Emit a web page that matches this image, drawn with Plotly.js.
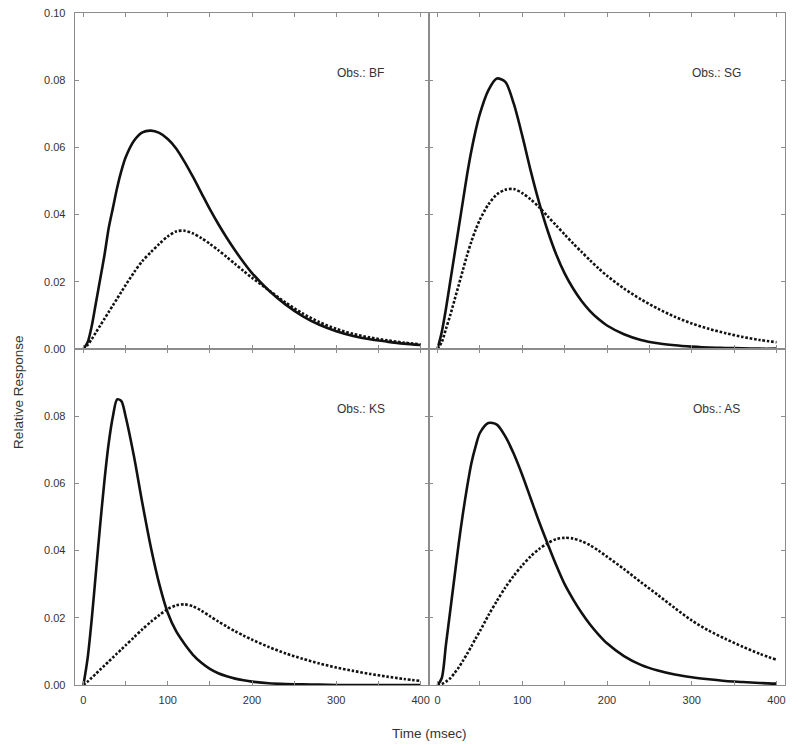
<!DOCTYPE html>
<html>
<head>
<meta charset="utf-8">
<script src="https://cdn.plot.ly/plotly-3.0.1.min.js"></script>
<style>
  body { margin: 0; background: #fff; }
  #chart { width: 800px; height: 745px; }
</style>
</head>
<body>
<div id="chart"></div>
<script>
// Time axis shared by every curve (msec)
const timeMs = [0, 5, 10, 15, 20, 25, 30, 35, 40, 45, 50, 60, 70, 80, 90, 100, 110, 120, 130, 140,
  150, 160, 170, 180, 190, 200, 220, 240, 260, 280, 300, 320, 340, 360, 380, 400];

// Obs.: BF
const bfSolid = [0, 0.002, 0.007, 0.014, 0.021, 0.028, 0.036, 0.042, 0.048, 0.053, 0.057, 0.0620, 0.0645, 0.0650, 0.0643, 0.0625,
  0.0597, 0.0557, 0.0512, 0.0464, 0.0416, 0.0372, 0.0331, 0.0293, 0.0258, 0.0226, 0.0174, 0.0132, 0.0098, 0.0072,
  0.0053, 0.0039, 0.0029, 0.0022, 0.0016, 0.0012];
const bfDotted = [0, 0.0012, 0.003, 0.005, 0.007, 0.009, 0.011, 0.013, 0.015, 0.017, 0.019, 0.0228, 0.0262, 0.0288, 0.0313, 0.0335,
  0.0350, 0.0352, 0.0344, 0.0330, 0.0313, 0.0294, 0.0274, 0.0253, 0.0232, 0.0212, 0.0175, 0.0138, 0.0106, 0.0080,
  0.0060, 0.0045, 0.0034, 0.0026, 0.0019, 0.0014];

// Obs.: SG
const sgSolid = [0, 0.005, 0.012, 0.020, 0.028, 0.036, 0.044, 0.052, 0.059, 0.065, 0.070, 0.077, 0.0805, 0.0795, 0.0730, 0.0635,
  0.0530, 0.0435, 0.0352, 0.0282, 0.0225, 0.0180, 0.0143, 0.0113, 0.0089, 0.0070, 0.0044, 0.0027, 0.0017, 0.0011,
  0.0007, 0.0004, 0.0003, 0.0002, 0.0001, 0.0001];
const sgDotted = [0, 0.002, 0.006, 0.010, 0.0145, 0.019, 0.0235, 0.028, 0.032, 0.0355, 0.0385, 0.0430, 0.0460, 0.0474, 0.0476, 0.0464,
  0.0445, 0.0422, 0.0395, 0.0368, 0.0341, 0.0314, 0.0289, 0.0264, 0.0240, 0.0218, 0.0180, 0.0148, 0.0120, 0.0096,
  0.0076, 0.0060, 0.0047, 0.0036, 0.0027, 0.0020];

// Obs.: KS
const ksSolid = [0, 0.008, 0.020, 0.034, 0.048, 0.061, 0.072, 0.080, 0.085, 0.0845, 0.080, 0.068, 0.054, 0.041, 0.030, 0.0215,
  0.0160, 0.0122, 0.0090, 0.0066, 0.0048, 0.0035, 0.0026, 0.0019, 0.0014, 0.0010, 0.0005, 0.0003, 0.0002, 0.0001,
  0, 0, 0, 0, 0, 0];
const ksDotted = [0, 0.001, 0.0022, 0.0034, 0.0046, 0.0058, 0.0070, 0.0082, 0.0094, 0.0106, 0.0118, 0.0142, 0.0166, 0.0188, 0.0208, 0.0226,
  0.0237, 0.0240, 0.0234, 0.0221, 0.0205, 0.0189, 0.0174, 0.0160, 0.0147, 0.0135, 0.0113, 0.0094, 0.0078, 0.0064,
  0.0052, 0.0042, 0.0033, 0.0025, 0.0018, 0.0012];

// Obs.: AS
const asSolid = [0, 0.002, 0.012, 0.022, 0.032, 0.042, 0.051, 0.059, 0.066, 0.071, 0.075, 0.078, 0.0775, 0.074, 0.0688, 0.0625,
  0.0555, 0.0485, 0.0420, 0.0357, 0.0300, 0.0255, 0.0215, 0.0180, 0.0150, 0.0124, 0.0086, 0.0060, 0.0043, 0.0031,
  0.0023, 0.0017, 0.0012, 0.0009, 0.0006, 0.0004];
const asDotted = [0, 0.0003, 0.001, 0.002, 0.0035, 0.0052, 0.0072, 0.0093, 0.0115, 0.0138, 0.016, 0.0207, 0.0250, 0.0290, 0.0325, 0.0356,
  0.0383, 0.0405, 0.0422, 0.0434, 0.0438, 0.0436, 0.0428, 0.0416, 0.0400, 0.0382, 0.0345, 0.0306, 0.0268, 0.0229,
  0.0192, 0.0162, 0.0137, 0.0114, 0.0093, 0.0075];

const panelNames = ['Obs.: BF', 'Obs.: SG', 'Obs.: KS', 'Obs.: AS'];
const panelSeries = [[bfSolid, bfDotted], [sgSolid, sgDotted], [ksSolid, ksDotted], [asSolid, asDotted]];

const AXIS_GRAY = '#8c8c8c';
const TICK_FONT = { family: 'Liberation Sans, Arial, sans-serif', size: 11, color: '#333' };

/**
 * Monta os traços (linha cheia e pontilhada) de um painel
 */
function buildTraces(series, idx) {
  const suffix = idx === 0 ? '' : String(idx + 1);
  const [solid, dotted] = series;
  const common = { x: timeMs, type: 'scatter', mode: 'lines', xaxis: 'x' + suffix, yaxis: 'y' + suffix, hoverinfo: 'skip' };
  return [
    { ...common, y: dotted, line: { color: '#111', width: 2.6, dash: '2.6px,1.8px', shape: 'spline', smoothing: 0.8 } },
    { ...common, y: solid, line: { color: '#111', width: 2.6, shape: 'spline', smoothing: 0.8 } }
  ];
}

function xAxis(domain, anchor, labels) {
  return {
    domain: domain, anchor: anchor, range: [-10, 410],
    tickvals: [0, 100, 200, 300, 400], showticklabels: labels,
    ticks: 'inside', ticklen: 4, tickcolor: AXIS_GRAY, tickwidth: 1,
    minor: { dtick: 50, tick0: 0, ticks: 'inside', ticklen: 4, tickcolor: AXIS_GRAY },
    showline: true, linecolor: AXIS_GRAY, linewidth: 1.3, mirror: 'ticks',
    showgrid: false, zeroline: false, tickfont: TICK_FONT, ticklabelstandoff: 4
  };
}

function yAxis(domain, anchor, labelVals) {
  const vals = [0, 0.02, 0.04, 0.06, 0.08, 0.1];
  return {
    domain: domain, anchor: anchor, range: [0, 0.1],
    tickvals: vals, ticktext: vals.map(v => labelVals.includes(v) ? v.toFixed(2) : ''),
    showticklabels: labelVals.length > 0,
    ticks: 'inside', ticklen: 4, tickcolor: AXIS_GRAY, tickwidth: 1,
    showline: true, linecolor: AXIS_GRAY, linewidth: 1.3, mirror: 'ticks',
    showgrid: false, zeroline: false, tickfont: TICK_FONT, ticklabelstandoff: 6
  };
}

const traces = panelSeries.flatMap((s, i) => buildTraces(s, i));

const annotations = panelNames.map((name, i) => {
  const suffix = i === 0 ? '' : String(i + 1);
  return {
    text: name, xref: 'x' + suffix, yref: 'y' + suffix, x: 329, y: 0.0822,
    showarrow: false, font: { family: 'Liberation Sans, Arial, sans-serif', size: 12, color: '#333' }
  };
});

annotations.push({
  text: 'Relative Response', xref: 'paper', yref: 'paper', x: -0.08, y: 0.435, textangle: -90,
  xanchor: 'center', yanchor: 'middle', showarrow: false,
  font: { family: 'Liberation Sans, Arial, sans-serif', size: 13.5, color: '#333' }
});
annotations.push({
  text: 'Time (msec)', xref: 'paper', yref: 'paper', x: 0.4986, y: -0.072,
  xanchor: 'center', yanchor: 'middle', showarrow: false,
  font: { family: 'Liberation Sans, Arial, sans-serif', size: 13.5, color: '#333' }
});

const split = 0.4986;
const layout = {
  width: 800, height: 745,
  margin: { l: 75, r: 15, t: 13, b: 60 },
  paper_bgcolor: '#fff', plot_bgcolor: '#fff',
  showlegend: false,
  xaxis: xAxis([0, split], 'y', false),
  yaxis: yAxis([0.5, 1], 'x', [0, 0.02, 0.04, 0.06, 0.08, 0.1]),
  xaxis2: xAxis([split, 1], 'y2', false),
  yaxis2: yAxis([0.5, 1], 'x2', []),
  xaxis3: xAxis([0, split], 'y3', true),
  yaxis3: yAxis([0, 0.5], 'x3', [0, 0.02, 0.04, 0.06, 0.08]),
  xaxis4: xAxis([split, 1], 'y4', true),
  yaxis4: yAxis([0, 0.5], 'x4', []),
  annotations: annotations
};

Plotly.newPlot('chart', traces, layout, { staticPlot: true });
</script>
</body>
</html>
